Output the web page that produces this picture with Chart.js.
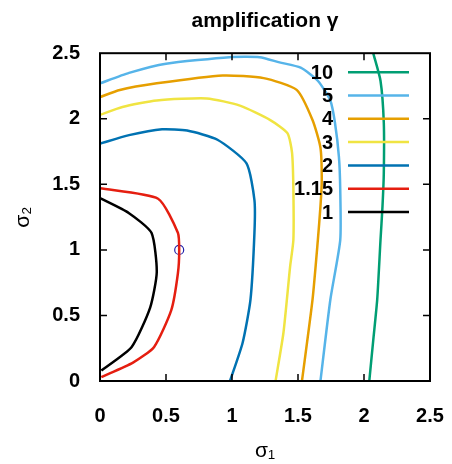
<!DOCTYPE html>
<html>
<head>
<meta charset="utf-8">
<script src="https://cdn.jsdelivr.net/npm/chart.js@4.4.0/dist/chart.umd.min.js"></script>
<style>
  html, body { margin: 0; padding: 0; background: #fff; }
  #wrap { width: 452px; height: 464px; }
</style>
</head>
<body>
<div id="wrap"><canvas id="ampChart" width="452" height="464"></canvas></div>
<script>
// contour levels of the amplification, with their colours
const levels = ["10", "5", "4", "3", "2", "1.15", "1"];
const levelColors = ["#009e73", "#56b4e9", "#e69f00", "#f0e442", "#0072b2", "#e51e10", "#000000"];

// contour lines (sigma1 = x, sigma2 = y)
const c10x = [2.07, 2.125, 2.15, 2.15, 2.14, 2.125, 2.10, 2.07, 2.04];
const c10y = [2.50, 2.29, 1.97, 1.585, 1.33, 1.075, 0.62, 0.31, 0.0];

const c5x = [0, 0.22, 0.50, 0.98, 1.21, 1.36, 1.52, 1.65, 1.745, 1.78, 1.81, 1.82, 1.82, 1.745, 1.67];
const c5y = [2.27, 2.35, 2.42, 2.47, 2.47, 2.43, 2.39, 2.29, 2.14, 1.97, 1.71, 1.46, 1.075, 0.62, 0.0];

const c4x = [0, 0.15, 0.43, 0.93, 1.24, 1.49, 1.61, 1.67, 1.68, 1.67, 1.65, 1.61, 1.53];
const c4y = [2.165, 2.22, 2.27, 2.33, 2.31, 2.22, 1.99, 1.78, 1.53, 1.33, 1.07, 0.62, 0.0];

const c3x = [0, 0.17, 0.43, 0.81, 1.06, 1.29, 1.42, 1.455, 1.465, 1.465, 1.44, 1.39, 1.33];
const c3y = [2.03, 2.09, 2.14, 2.155, 2.10, 1.99, 1.89, 1.74, 1.46, 1.075, 0.87, 0.37, 0.0];

const c2x = [0, 0.22, 0.47, 0.66, 0.89, 1.11, 1.17, 1.17, 1.14, 1.08, 0.985];
const c2y = [1.81, 1.875, 1.92, 1.91, 1.84, 1.66, 1.38, 1.13, 0.62, 0.29, 0.0];

const c115x = [0, 0.44, 0.59, 0.60, 0.59, 0.54, 0.41, 0.25, 0.01];
const c115y = [1.47, 1.39, 1.13, 1.0, 0.82, 0.54, 0.26, 0.14, 0.03];

const c1x = [0, 0.22, 0.39, 0.43, 0.38, 0.24, 0.01];
const c1y = [1.395, 1.28, 1.13, 0.83, 0.56, 0.26, 0.08];

// marked point
const markX = [0.6];
const markY = [1.0];

const tickValues = [0, 0.5, 1, 1.5, 2, 2.5];

const contours = [[c10x, c10y], [c5x, c5y], [c4x, c4y], [c3x, c3y], [c2x, c2y], [c115x, c115y], [c1x, c1y]];

function toPoints(xs, ys) {
  return xs.map((x, i) => ({ x: x, y: ys[i] }));
}

const datasets = contours.map((c, i) => ({
  label: levels[i],
  data: toPoints(c[0], c[1]),
  showLine: true,
  borderColor: levelColors[i],
  borderWidth: 2.5,
  pointRadius: 0,
  tension: 0.2,
  fill: false
}));

datasets.push({
  label: "point",
  data: toPoints(markX, markY),
  showLine: false,
  pointRadius: 4.5,
  pointBorderColor: "#2222aa",
  pointBackgroundColor: "rgba(0,0,0,0)",
  pointBorderWidth: 1.2
});

const boldFont = "'Liberation Sans', Arial, sans-serif";

// frame, inward ticks on all four sides and the key in the top right
const framePlugin = {
  id: "frame",
  afterDatasetsDraw(chart) {
    const { ctx, chartArea: a, scales } = chart;
    ctx.save();
    ctx.strokeStyle = "#000";
    ctx.lineWidth = 1.5;
    ctx.beginPath();
    tickValues.slice(1, -1).forEach(v => {
      const px = scales.x.getPixelForValue(v);
      const py = scales.y.getPixelForValue(v);
      ctx.moveTo(px, a.bottom); ctx.lineTo(px, a.bottom - 7);
      ctx.moveTo(px, a.top); ctx.lineTo(px, a.top + 7);
      ctx.moveTo(a.left, py); ctx.lineTo(a.left + 7, py);
      ctx.moveTo(a.right, py); ctx.lineTo(a.right - 7, py);
    });
    ctx.stroke();
    ctx.lineWidth = 2;
    ctx.strokeRect(a.left, a.top, a.right - a.left, a.bottom - a.top);

    // key
    ctx.font = "bold 20px " + boldFont;
    ctx.textAlign = "right";
    ctx.textBaseline = "middle";
    levels.forEach((lab, i) => {
      const y = a.top + 19 + i * 23.3;
      ctx.fillStyle = "#000";
      ctx.fillText(lab, a.right - 97, y + 1);
      ctx.strokeStyle = levelColors[i];
      ctx.lineWidth = 2.5;
      ctx.beginPath();
      ctx.moveTo(a.right - 82, y);
      ctx.lineTo(a.right - 21, y);
      ctx.stroke();
    });
    ctx.restore();
  }
};

const tickFmt = v => String(v);

new Chart(document.getElementById("ampChart").getContext("2d"), {
  type: "scatter",
  data: { datasets: datasets },
  options: {
    responsive: false,
    animation: false,
    events: [],
    layout: { padding: { left: 0, right: 22, top: 0, bottom: 0 } },
    plugins: {
      legend: { display: false },
      tooltip: { enabled: false },
      title: {
        display: true,
        text: "amplification \u03b3",
        color: "#000",
        fullSize: false,
        font: { family: boldFont, size: 21, weight: "bold" },
        padding: { top: 9, bottom: 19 }
      }
    },
    scales: {
      x: {
        type: "linear",
        min: 0,
        max: 2.5,
        afterFit(scale) {
          scale.height = 83;
          scale.paddingLeft = 0;
          scale.paddingRight = 0;
        },
        grid: { display: false, drawTicks: false },
        border: { display: false },
        ticks: {
          stepSize: 0.5,
          padding: 23,
          color: "#000",
          maxRotation: 0,
          callback: tickFmt,
          font: { family: boldFont, size: 20, weight: "bold" }
        },
        title: {
          display: true,
          text: "\u03c3\u2081",
          color: "#000",
          font: { family: boldFont, size: 21 },
          padding: { top: 0, bottom: 0 }
        }
      },
      y: {
        type: "linear",
        min: 0,
        max: 2.5,
        afterFit(scale) {
          scale.width = 100;
          scale.paddingTop = 0;
          scale.paddingBottom = 0;
        },
        grid: { display: false, drawTicks: false },
        border: { display: false },
        ticks: {
          stepSize: 0.5,
          padding: 20,
          color: "#000",
          callback: tickFmt,
          font: { family: boldFont, size: 20, weight: "bold" }
        },
        title: {
          display: true,
          text: "\u03c3\u2082",
          color: "#000",
          font: { family: boldFont, size: 21 },
          padding: { top: 11, bottom: 0 }
        }
      }
    }
  },
  plugins: [framePlugin]
});
</script>
</body>
</html>
